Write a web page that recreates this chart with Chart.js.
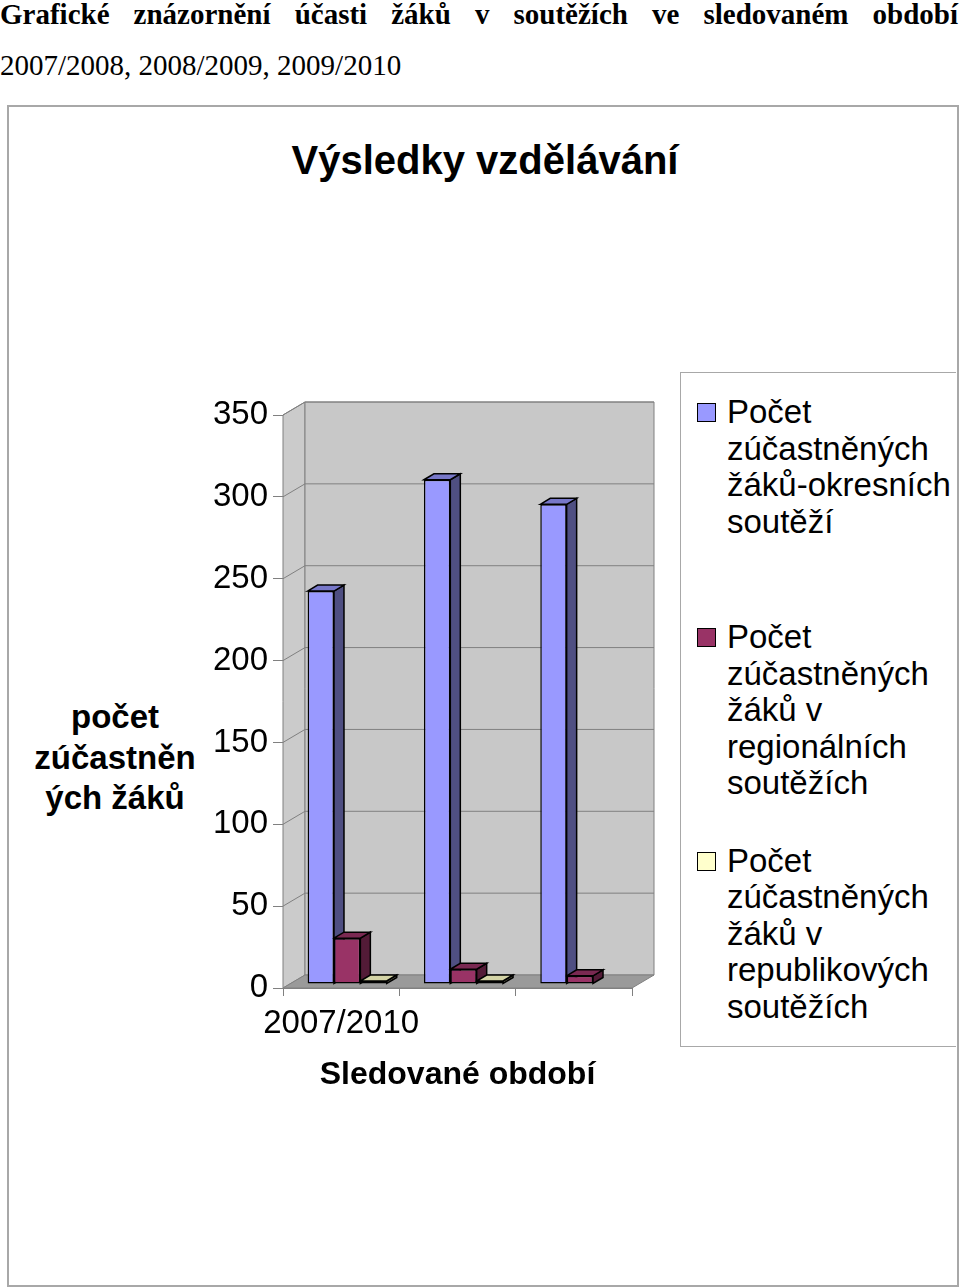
<!DOCTYPE html>
<html lang="cs">
<head>
<meta charset="utf-8">
<title>Výsledky vzdělávání</title>
<script src="https://cdn.jsdelivr.net/npm/chart.js@4.4.0/dist/chart.umd.min.js"></script>
<style>
    html, body { margin: 0; padding: 0; background: #fff; }
    body {
        width: 960px; height: 1288px; position: relative; overflow: hidden;
        font-family: "Liberation Sans", Arial, sans-serif; color: #000;
    }
    .header {
        position: absolute; left: 0; top: -11px; width: 958px;
        font-family: "Liberation Serif", "Times New Roman", serif;
        font-size: 29px; line-height: 51px;
    }
    .header .l1 { font-weight: bold; text-align: justify; text-align-last: justify; }
    .frame {
        position: absolute; left: 7px; top: 105px; width: 948px; height: 1178px;
        border: 2px solid #a8a8a8;
    }
    .chart-title {
        position: absolute; left: 185px; top: 136px; width: 600px;
        text-align: center; font-weight: bold; font-size: 40px; line-height: 48px;
    }
    .y-title {
        position: absolute; left: 15px; top: 697px; width: 200px;
        text-align: center; font-weight: bold; font-size: 33px; line-height: 40.5px;
        white-space: pre-line;
    }
    #wrap { position: absolute; left: 0; top: 0; width: 960px; height: 1288px; }
    .legend {
        position: absolute; left: 680px; top: 372px; width: 276px; height: 675px;
        border: 1px solid #a8a8a8; border-right: none; background: #fff;
        box-sizing: border-box; padding-top: 21px;
    }
    .legend-item { position: relative; padding-left: 46px; font-size: 33px; line-height: 36.5px; white-space: pre; }
    .legend-item .swatch {
        position: absolute; left: 16px; top: 9px; width: 17px; height: 17px;
        border: 1px solid #000;
    }
</style>
</head>
<body>
<div class="header">
    <div class="l1">Grafické znázornění účasti žáků v soutěžích ve sledovaném období</div>
    <div>2007/2008, 2008/2009, 2009/2010</div>
</div>
<div class="frame"></div>
<div class="chart-title">Výsledky vzdělávání</div>
<div class="y-title">počet
zúčastněn
ých žáků</div>
<div id="wrap"><canvas id="chart"></canvas></div>
<div class="legend" id="legend"></div>

<script>
// Data
const categories = ['2007/2010', '', ''];
const okresni = [240, 308, 293];
const regionalni = [28, 9, 5];
const republikove = [0, 0, null];
const yTicks = [0, 50, 100, 150, 200, 250, 300, 350];
const seriesNames = [
    'Počet\nzúčastněných\nžáků-okresních\nsoutěží',
    'Počet\nzúčastněných\nžáků v\nregionálních\nsoutěžích',
    'Počet\nzúčastněných\nžáků v\nrepublikových\nsoutěžích'
];

// Colours of the bar faces (front, top, side)
const faces = [
    { front: '#9999ff', top: '#7777c8', side: '#4f4f82' },
    { front: '#993366', top: '#7a2952', side: '#531b37' },
    { front: '#ffffcc', top: '#d4d4a6', side: '#808066' }
];

const wall = { dx: 22, dy: -13 };
const bar3d = { dx: 10, dy: -6, shiftX: 6, shiftY: -4 };
const legendGaps = [0, 79, 41];

function poly(ctx, pts, fill, stroke) {
    ctx.beginPath();
    ctx.moveTo(pts[0][0], pts[0][1]);
    for (let i = 1; i < pts.length; i++) ctx.lineTo(pts[i][0], pts[i][1]);
    ctx.closePath();
    ctx.fillStyle = fill;
    ctx.fill();
    ctx.strokeStyle = stroke;
    ctx.stroke();
}

// Walls, floor and bar depth, drawn from the chart's own scales and elements
const box3d = {
    id: 'box3d',
    beforeDatasetsDraw(chart) {
        const { ctx, chartArea: a, scales: { y } } = chart;
        const { dx, dy } = wall;
        ctx.save();
        ctx.lineWidth = 1;
        poly(ctx, [[a.left, a.top], [a.left + dx, a.top + dy], [a.left + dx, a.bottom + dy], [a.left, a.bottom]], '#cbcbcb', '#808080');
        poly(ctx, [[a.left + dx, a.top + dy], [a.right + dx, a.top + dy], [a.right + dx, a.bottom + dy], [a.left + dx, a.bottom + dy]], '#c8c8c8', '#808080');
        poly(ctx, [[a.left, a.bottom], [a.left + dx, a.bottom + dy], [a.right + dx, a.bottom + dy], [a.right, a.bottom]], '#9a9a9a', '#808080');
        ctx.strokeStyle = '#808080';
        y.ticks.forEach(t => {
            if (t.value === 0) return;
            const py = y.getPixelForValue(t.value);
            ctx.beginPath();
            ctx.moveTo(a.left, py);
            ctx.lineTo(a.left + dx, py + dy);
            ctx.lineTo(a.right + dx, py + dy);
            ctx.stroke();
        });
        ctx.restore();

        // left open on purpose: closed in afterDatasetsDraw so the bars share the shift
        ctx.save();
        ctx.translate(bar3d.shiftX, bar3d.shiftY);
        ctx.lineWidth = 1.5;
        chart.data.datasets.forEach((ds, i) => {
            const meta = chart.getDatasetMeta(i);
            meta.data.forEach((el, j) => {
                if (ds.data[j] == null) return;
                const { x, y: top, base, width } = el.getProps(['x', 'y', 'base', 'width'], true);
                const l = x - width / 2, r = x + width / 2;
                const bdx = bar3d.dx, bdy = bar3d.dy;
                poly(ctx, [[r, top], [r + bdx, top + bdy], [r + bdx, base + bdy], [r, base]], faces[i].side, '#000');
                poly(ctx, [[l, top], [l + bdx, top + bdy], [r + bdx, top + bdy], [r, top]], faces[i].top, '#000');
            });
        });
    },
    afterDatasetsDraw(chart) {
        chart.ctx.restore();
    }
};

const datasets = [okresni, regionalni, republikove].map((values, i) => ({
    label: seriesNames[i],
    data: values,
    backgroundColor: faces[i].front,
    borderColor: '#000',
    borderWidth: 1.5,
    borderSkipped: false,
    minBarLength: 3,
    categoryPercentage: 0.68,
    barPercentage: 1
}));

const chart = new Chart(document.getElementById('chart'), {
    type: 'bar',
    data: { labels: categories, datasets },
    options: {
        responsive: true,
        maintainAspectRatio: false,
        animation: false,
        layout: { padding: { left: 213, right: 328, top: 415, bottom: 190 } },
        plugins: {
            legend: { display: false },
            tooltip: { enabled: false },
            title: { display: false }
        },
        scales: {
            x: {
                grid: { offset: true, drawOnChartArea: false, tickLength: 8, color: '#808080' },
                border: { display: true, color: '#808080' },
                ticks: {
                    color: '#000', maxRotation: 0, autoSkip: false, padding: 8,
                    font: { family: '"Liberation Sans", Arial', size: 33 }
                },
                title: {
                    display: true, text: 'Sledované období', color: '#000',
                    padding: { top: 0, bottom: 4 },
                    font: { family: '"Liberation Sans", Arial', size: 32, weight: 'bold' }
                },
                afterFit: s => { s.height = 110; }
            },
            y: {
                min: 0,
                max: 350,
                afterBuildTicks: s => { s.ticks = yTicks.map(v => ({ value: v })); },
                grid: { drawOnChartArea: false, tickLength: 10, color: '#808080' },
                border: { display: true, color: '#808080' },
                ticks: {
                    color: '#000', padding: 5,
                    font: { family: '"Liberation Sans", Arial', size: 33 }
                },
                afterFit: s => { s.width = 70; }
            }
        }
    },
    plugins: [box3d]
});

// Legend built from the datasets
const legendBox = document.getElementById('legend');
chart.data.datasets.forEach((ds, i) => {
    const item = document.createElement('div');
    item.className = 'legend-item';
    item.style.marginTop = legendGaps[i] + 'px';
    const sw = document.createElement('span');
    sw.className = 'swatch';
    sw.style.background = ds.backgroundColor;
    const txt = document.createElement('span');
    txt.textContent = ds.label;
    item.appendChild(sw);
    item.appendChild(txt);
    legendBox.appendChild(item);
});
</script>
</body>
</html>
